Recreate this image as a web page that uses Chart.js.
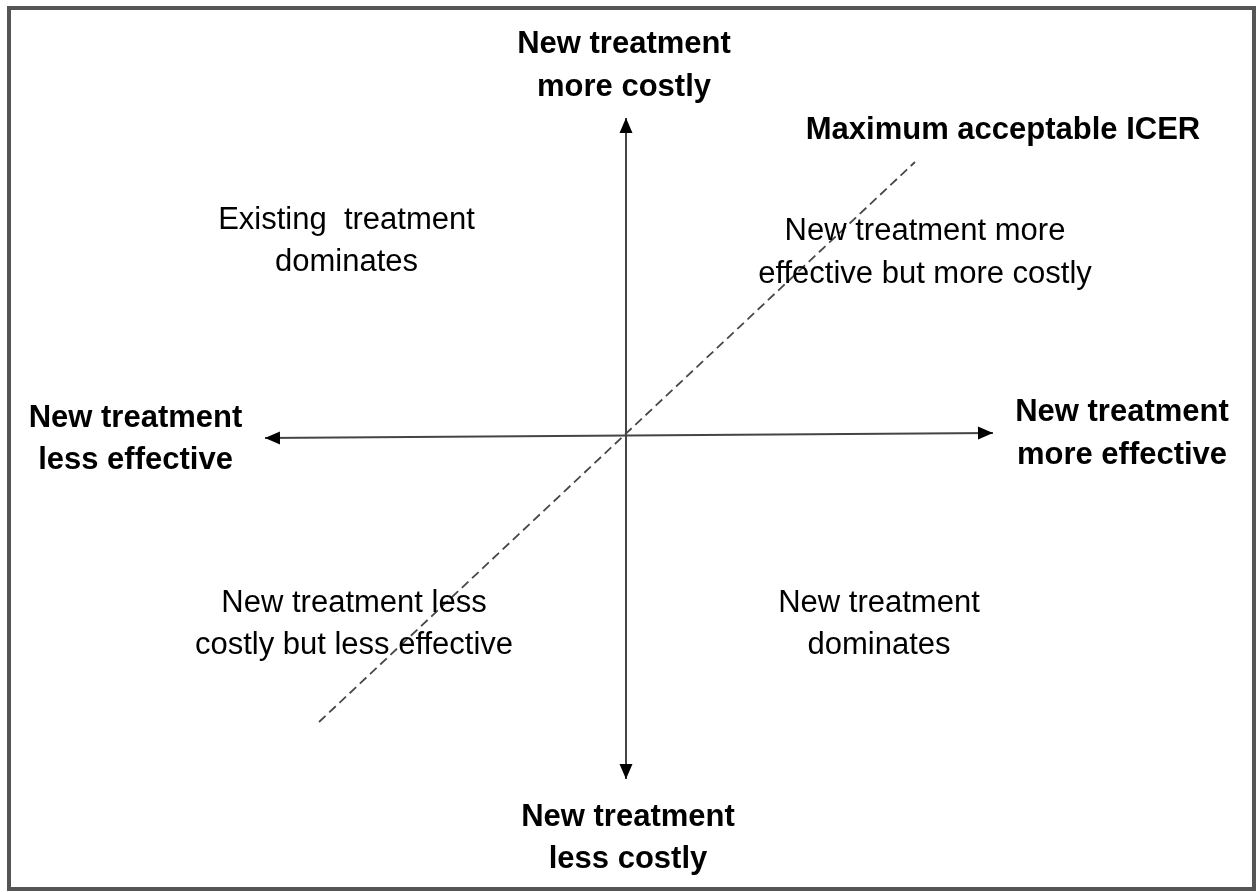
<!DOCTYPE html>
<html>
<head>
<meta charset="utf-8">
<script src="https://cdn.jsdelivr.net/npm/chart.js@4/dist/chart.umd.min.js"></script>
<style>
  html, body { margin: 0; padding: 0; background: #fff; }
  #wrap { position: relative; width: 1257px; height: 892px; }
  #frame {
    position: absolute; left: 7px; top: 6px; width: 1241px; height: 877px;
    border: 4px solid #555; box-sizing: content-box;
  }
  #plane { position: absolute; left: 0; top: 0; }
</style>
</head>
<body>
<div id="wrap">
  <div id="frame"></div>
  <canvas id="plane" width="1257" height="892"></canvas>
</div>
<script>
// cost-effectiveness plane: x = effect difference, y = cost difference
// axis ends are the arrow tips
const effectAxis = [{ x: -3.61, y: -0.02 }, { x: 3.67, y: 0.03 }];
const costAxis = [{ x: 0, y: 3.18 }, { x: 0, y: -3.43 }];
const icerLine = [{ x: -3.07, y: -2.86 }, { x: 2.89, y: 2.74 }];

const axisTitles = [
    ['New treatment', 'more costly'],
    ['New treatment', 'less costly'],
    ['New treatment', 'less effective'],
    ['New treatment', 'more effective'],
    ['Maximum acceptable ICER']
];
const quadrantTitles = [
    ['Existing  treatment', 'dominates'],
    ['New treatment more', 'effective but more costly'],
    ['New treatment less', 'costly but less effective'],
    ['New treatment', 'dominates']
];

// centre x and first-line baseline of each text block, in plane units
const axisTitlePos = [[-0.02, 3.83], [0.02, -3.897], [-4.905, 0.092], [4.96, 0.148], [3.77, 2.973]];
const quadrantPos = [[-2.795, 2.075], [2.99, 1.958], [-2.72, -1.757], [2.53, -1.757]];

// filled arrow heads at the end of the two axis datasets
const arrowPlugin = {
    id: 'axisArrows',
    afterDatasetsDraw(chart) {
        const ctx = chart.ctx;
        ctx.save();
        ctx.fillStyle = '#000';
        [1, 2].forEach(di => {
            const pts = chart.getDatasetMeta(di).data;
            [[0, 1], [1, 0]].forEach(([a, b]) => {
                const tip = pts[a], from = pts[b];
                const ang = Math.atan2(tip.y - from.y, tip.x - from.x);
                const len = 15, half = 6.5;
                ctx.beginPath();
                ctx.moveTo(tip.x, tip.y);
                ctx.lineTo(tip.x - len * Math.cos(ang) + half * Math.sin(ang), tip.y - len * Math.sin(ang) - half * Math.cos(ang));
                ctx.lineTo(tip.x - len * Math.cos(ang) - half * Math.sin(ang), tip.y - len * Math.sin(ang) + half * Math.cos(ang));
                ctx.closePath();
                ctx.fill();
            });
        });
        ctx.restore();
    }
};

const textPlugin = {
    id: 'planeText',
    afterDatasetsDraw(chart) {
        const ctx = chart.ctx;
        const xs = chart.scales.x, ys = chart.scales.y;
        const lineH = 42.5;
        function block(lines, pos, font) {
            const cx = xs.getPixelForValue(pos[0]);
            const base = ys.getPixelForValue(pos[1]);
            ctx.font = font;
            lines.forEach((t, i) => ctx.fillText(t, cx, base + i * lineH));
        }
        ctx.save();
        ctx.fillStyle = '#000';
        ctx.textAlign = 'center';
        ctx.textBaseline = 'alphabetic';
        axisTitles.forEach((t, i) => block(t, axisTitlePos[i], 'bold 31px "Liberation Sans", Arial, sans-serif'));
        quadrantTitles.forEach((t, i) => block(t, quadrantPos[i], '31px "Liberation Sans", Arial, sans-serif'));
        ctx.restore();
    }
};

new Chart(document.getElementById('plane').getContext('2d'), {
    type: 'scatter',
    data: {
        datasets: [
            {
                data: icerLine,
                showLine: true,
                borderColor: '#474747',
                borderWidth: 1.8,
                borderDash: [9, 5],
                pointRadius: 0
            },
            {
                data: effectAxis,
                showLine: true,
                borderColor: '#444',
                borderWidth: 2,
                pointRadius: 0
            },
            {
                data: costAxis,
                showLine: true,
                borderColor: '#444',
                borderWidth: 2,
                pointRadius: 0
            }
        ]
    },
    options: {
        responsive: false,
        animation: false,
        layout: { padding: 0 },
        scales: {
            x: { type: 'linear', min: -6.26, max: 6.31, display: false },
            y: { type: 'linear', min: -4.56, max: 4.36, display: false }
        },
        plugins: {
            legend: { display: false },
            tooltip: { enabled: false }
        }
    },
    plugins: [arrowPlugin, textPlugin]
});
</script>
</body>
</html>
